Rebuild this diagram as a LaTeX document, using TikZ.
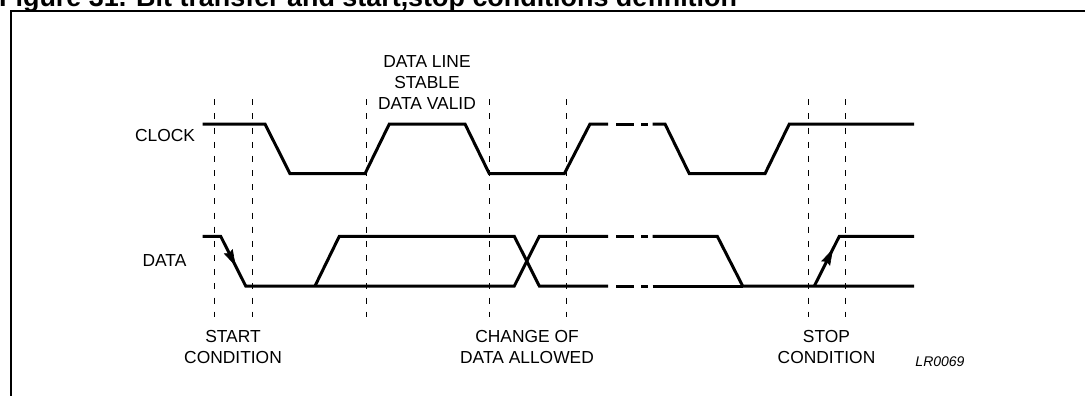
\documentclass[tikz,border=0pt]{standalone}
\usepackage{fontspec}
\setmainfont{Liberation Sans}
\usetikzlibrary{calc}
\begin{document}
\begin{tikzpicture}[x=1pt,y=-1pt,
  sig/.style={line width=3pt, line join=miter},
  guide/.style={line width=0.9pt, dash pattern=on 6pt off 8.16pt},
  lbl/.style={font=\fontsize{17.4}{21}\selectfont, inner sep=0pt, anchor=base},
  small/.style={font=\itshape\fontsize{14}{16}\selectfont, inner sep=0pt, anchor=base},
  head/.style={fill=black, draw=black, line width=0.6pt, line join=miter}
]
\useasboundingbox (0,0) rectangle (1085,396);
% title and frame
\node[anchor=base west, inner sep=0pt, font=\bfseries\fontsize{26.9}{30}\selectfont] (title) at (-1,6.5) {Figure 31. Bit transfer and start,stop conditions definition};
\draw[line width=2pt] (11,400) -- (11,11) -- (1090,11);

% guide lines
\foreach \x [count=\i] in {214.7,252,366,489.3,566,808.3,845.7}
  \draw[guide] (\x,99.3) coordinate (g\i t) -- (\x,317.3) coordinate (g\i b);

% levels
\def\ch{124}\def\cl{173.7}\def\dh{236.3}\def\dl{286}

% CLOCK
\draw[sig] (202.7,\ch) -- (265,\ch) -- (290,\cl) -- (365,\cl) -- (389.3,\ch) -- (465,\ch)
  -- (489.3,\cl) -- (564.3,\cl) -- (590,\ch) -- (608,\ch);
\draw[sig] (652.7,\ch) -- (665,\ch) -- (689.3,\cl) -- (765,\cl) -- (789.3,\ch) -- (914,\ch);

% DATA
\draw[sig] (202.7,\dh) coordinate (d0) -- (220.7,\dh) coordinate (sa) -- (245.7,\dl) coordinate (sb)
  -- (514.3,\dl) -- (539.3,\dh) -- (608,\dh);
\draw[sig] (652.7,\dh) -- (717.3,\dh) -- (742.7,\dl) -- (914,\dl);
\draw[sig] (315,\dl) -- (339.3,\dh) -- (514.3,\dh) -- (539.3,\dl) -- (608,\dl);
\draw[sig] (652.7,\dl) -- (742.7,\dl);
\draw[sig] (814.3,\dl) coordinate (pa) -- (839.3,\dh) coordinate (pb) -- (914,\dh);

% breaks
\foreach \y in {\ch,\dh,\dl}{
  \draw[sig] (616,\y) -- (634,\y);
  \draw[sig] (641,\y) -- (648,\y);
}

% arrowheads
\coordinate (st) at ($(sa)!0.58!(sb)$);
\coordinate (sbase) at ($(st)!15pt!(sa)$);
\fill[head] (st) -- ($(sbase)!4.5pt!90:(st)$) -- ($(sbase)!2pt!(st)$) -- ($(sbase)!4.5pt!-90:(st)$) -- cycle;
\coordinate (pt) at ($(pa)!0.73!(pb)$);
\coordinate (pbase) at ($(pt)!15pt!(pa)$);
\fill[head] (pt) -- ($(pbase)!4.5pt!90:(pt)$) -- ($(pbase)!2pt!(pt)$) -- ($(pbase)!4.5pt!-90:(pt)$) -- cycle;

% labels
\node[lbl] (clk) at (165,141.8) {CLOCK};
\node[lbl] (dat) at (164.5,266.7) {DATA};
\node[lbl] (dl1) at (427,67.3) {DATA LINE};
\node[lbl] (dl2) at (427,88.5) {STABLE};
\node[lbl] (dl3) at (427,110) {DATA VALID};
\node[lbl] (st1) at (233,342.7) {START};
\node[lbl] (st2) at (233,363.3) {CONDITION};
\node[lbl] (ch1) at (527,342.7) {CHANGE OF};
\node[lbl] (ch2) at (527,363.3) {DATA ALLOWED};
\node[lbl] (sp1) at (826.5,342.7) {STOP};
\node[lbl] (sp2) at (826.5,363.3) {CONDITION};
\node[small] (ref) at (940,366.7) {LR0069};
\end{tikzpicture}
\end{document}
